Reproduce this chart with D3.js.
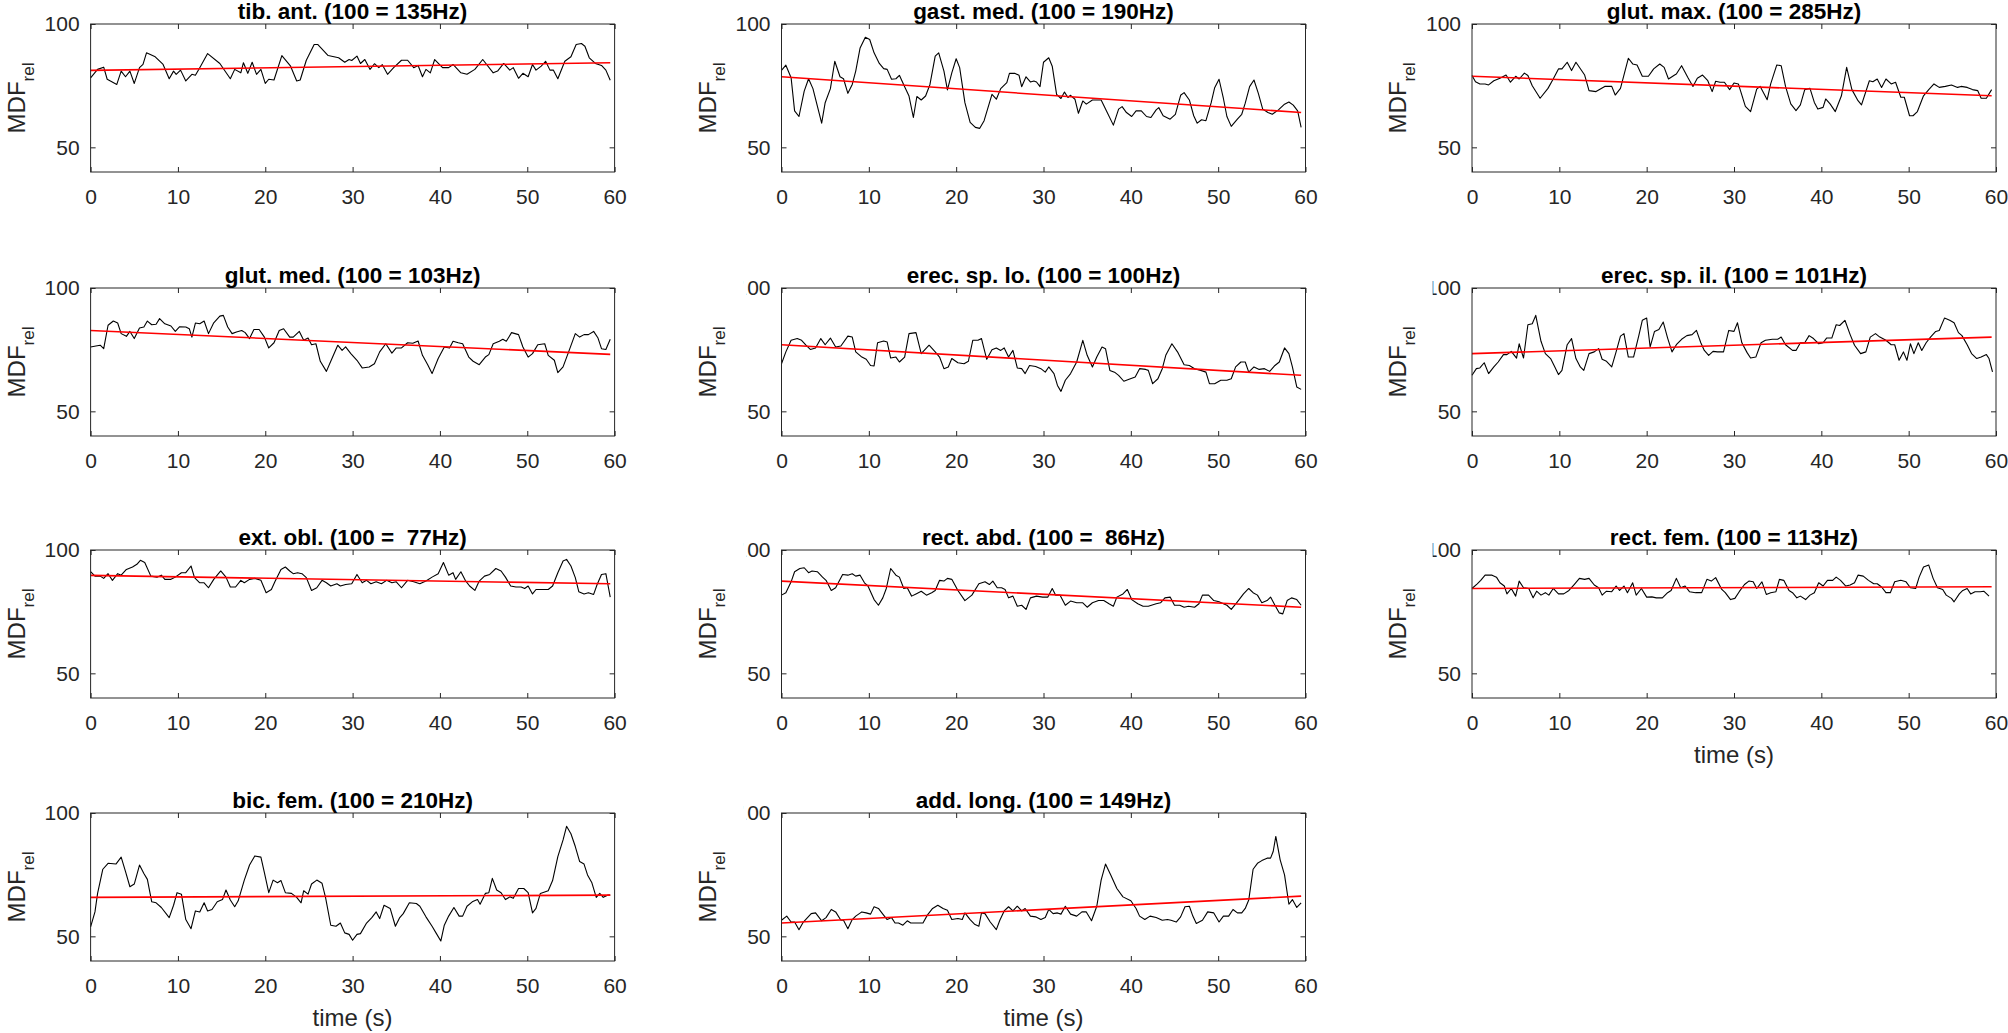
<!DOCTYPE html>
<html><head><meta charset="utf-8">
<script src="https://cdn.jsdelivr.net/npm/d3@7"></script>
<style>
body{margin:0;background:#fff;}
svg{display:block;}
text{font-family:"Liberation Sans",Arial,Helvetica,sans-serif;}
</style>
</head><body>
<svg id="chart" width="2008" height="1033"></svg>
<script>
// ---------- DATA ----------
const titles = [
  "tib. ant. (100 = 135Hz)", "gast. med. (100 = 190Hz)", "glut. max. (100 = 285Hz)",
  "glut. med. (100 = 103Hz)", "erec. sp. lo. (100 = 100Hz)", "erec. sp. il. (100 = 101Hz)",
  "ext. obl. (100 =  77Hz)", "rect. abd. (100 =  86Hz)", "rect. fem. (100 = 113Hz)",
  "bic. fem. (100 = 210Hz)", "add. long. (100 = 149Hz)"
];
const xTicks = [0, 10, 20, 30, 40, 50, 60];
const yTicks = [50, 100];
const xDomain = [0, 60];
const yDomain = [40, 100];
const trendTime = [0, 59.5];
const trendStart = [81.2, 78.6, 78.8, 82.8, 77.0, 73.4, 89.7, 87.4, 84.4, 65.8, 55.4];
const trendEnd   = [84.3, 64.1, 70.9, 73.1, 64.6, 80.1, 86.3, 76.8, 85.1, 66.7, 66.3];

const tibAnt = [[0,78.2],[0.8,81.6],[1.5,82.5],[1.9,77.6],[3.0,75.5],[3.5,80.9],[4.0,78.6],[4.5,80.9],[5.0,75.9],[5.6,82.3],[6.0,83.6],[6.4,88.3],[7.4,86.7],[8.3,83.6],[9.0,77.8],[9.5,80.9],[9.8,79.6],[10.3,81.3],[10.9,76.9],[11.6,79.6],[12.0,79.2],[12.5,82.3],[13.4,88.0],[14.8,84.0],[16.0,77.8],[16.5,81.6],[17.2,80.2],[17.5,84.3],[18.0,80.0],[18.5,84.5],[19.0,79.6],[19.5,81.6],[20.0,75.9],[20.4,77.6],[21.0,77.3],[21.9,87.2],[22.9,82.9],[23.6,76.9],[24.0,77.3],[24.7,85.3],[25.6,91.7],[26.0,91.7],[27.2,87.2],[28.4,86.3],[29.1,84.5],[29.6,85.6],[29.9,85.2],[30.5,87.0],[30.9,84.0],[31.4,85.6],[32.0,81.6],[32.5,83.9],[33.0,82.3],[33.4,83.5],[34.0,79.6],[34.7,82.3],[35.6,85.3],[36.3,85.3],[37.0,82.3],[37.5,83.2],[38.0,78.6],[38.4,81.6],[38.9,80.2],[39.4,85.6],[40.3,82.3],[41.0,82.3],[41.5,83.6],[42.4,80.2],[43.1,79.6],[44.0,81.6],[44.9,85.6],[46.1,80.2],[46.6,80.9],[47.3,84.0],[48.0,81.3],[48.4,82.3],[49.0,78.0],[49.5,80.0],[50.1,78.6],[50.6,83.6],[51.0,81.3],[51.6,82.9],[52.1,84.9],[52.6,81.3],[53.0,81.3],[53.5,77.8],[54.3,84.9],[55.0,86.7],[55.6,91.7],[56.2,92.1],[56.6,91.0],[57.1,86.3],[57.8,84.0],[58.5,83.2],[59.0,81.3],[59.5,77.2]];

const gastMed = [[0,81.2],[0.5,83.3],[1.1,78.2],[1.5,64.8],[2.0,62.5],[2.6,72.8],[3.1,77.8],[3.6,73.8],[4.6,59.8],[5.0,68.1],[5.6,73.8],[6.1,84.9],[6.7,78.6],[7.1,77.8],[7.6,71.9],[8.1,75.5],[8.5,80.9],[9.0,90.3],[9.6,94.6],[10.1,93.7],[10.6,88.3],[11.2,84.0],[11.7,81.9],[12.1,81.6],[12.6,77.6],[13.1,77.8],[13.5,79.2],[14.1,74.6],[14.6,70.8],[15.1,62.1],[15.5,70.6],[16.0,69.2],[16.5,70.8],[17.0,75.5],[17.6,87.0],[18.0,88.3],[18.6,80.9],[19.0,73.3],[19.5,80.2],[20.0,85.9],[20.4,82.3],[21.0,68.1],[21.6,60.1],[22.2,58.1],[22.7,57.7],[23.2,60.8],[24.1,71.5],[24.6,69.5],[25.1,73.8],[25.8,76.2],[26.1,80.0],[26.7,80.0],[27.2,79.2],[27.5,74.6],[28.0,78.6],[28.5,76.5],[28.9,76.9],[29.2,76.5],[29.6,74.6],[30.0,84.5],[30.6,86.3],[31.0,82.9],[31.5,71.5],[32.0,69.8],[32.4,72.4],[32.8,70.2],[33.1,71.1],[33.6,69.5],[34.0,63.8],[34.5,68.8],[34.9,67.5],[35.6,69.2],[36.6,69.2],[37.2,64.8],[38.0,59.0],[38.6,65.5],[39.0,66.5],[39.5,64.1],[40.1,62.5],[40.6,64.8],[41.2,64.8],[41.8,62.5],[42.3,62.1],[42.9,65.2],[43.2,66.1],[43.7,62.8],[44.5,61.4],[45.1,63.4],[45.7,71.1],[46.1,72.2],[46.7,69.2],[47.2,62.8],[47.6,59.8],[48.1,61.2],[48.6,60.8],[49.2,68.1],[49.6,74.2],[50.1,77.6],[50.6,69.8],[51.0,62.5],[51.5,58.5],[52.2,61.4],[52.7,63.4],[53.1,67.9],[53.6,74.6],[54.1,77.3],[54.6,71.9],[55.1,65.5],[55.7,64.1],[56.2,63.4],[56.9,65.2],[57.6,67.5],[58.1,68.4],[58.6,67.1],[59.1,64.8],[59.5,58.1]];

const glutMax = [[0,79.1],[0.4,76.6],[0.9,75.7],[1.5,75.7],[1.9,75.3],[2.5,77.0],[3.2,78.0],[3.9,79.3],[4.4,76.4],[5.0,78.8],[5.4,77.7],[6.0,80.1],[6.4,79.1],[6.9,75.0],[7.8,69.9],[8.7,73.9],[9.3,77.7],[9.9,81.8],[10.3,81.8],[10.9,84.5],[11.4,81.1],[11.9,84.5],[12.9,79.3],[13.4,73.0],[14.2,72.6],[15.2,74.7],[16.0,74.7],[16.4,71.2],[17.0,73.9],[17.9,86.1],[18.4,83.8],[18.9,83.4],[19.5,78.8],[20.2,78.8],[20.8,81.8],[21.5,83.8],[22.0,82.4],[22.5,77.7],[23.2,79.3],[23.4,79.7],[24.0,83.1],[24.7,78.4],[25.3,74.7],[25.8,78.0],[26.4,79.3],[27.0,77.0],[27.5,72.6],[27.9,76.8],[28.4,76.4],[28.9,76.4],[29.5,73.4],[30.0,76.1],[30.5,75.7],[31.3,66.6],[31.9,64.5],[32.6,73.6],[33.0,74.7],[33.8,69.3],[34.2,75.7],[34.9,83.4],[35.4,83.1],[35.9,74.7],[36.5,67.6],[37.1,64.9],[37.6,67.2],[38.1,73.4],[38.7,73.9],[39.2,68.2],[39.6,65.5],[40.2,66.2],[40.5,69.6],[41.0,67.6],[41.6,64.5],[42.3,70.9],[42.9,82.4],[43.5,73.4],[44.2,68.9],[44.6,67.2],[45.5,77.0],[45.9,76.6],[46.4,77.7],[46.9,74.3],[47.4,77.7],[48.0,75.7],[48.5,76.4],[49.1,70.3],[49.5,70.3],[50.1,62.8],[50.5,62.8],[51.0,64.5],[51.7,70.9],[52.3,73.4],[52.9,75.7],[53.5,74.3],[54.2,74.7],[54.9,75.3],[55.6,74.3],[56.0,74.7],[56.7,74.3],[57.3,73.4],[57.9,73.0],[58.3,69.9],[58.9,69.9],[59.5,73.4]];

const glutMed = [[0,76.1],[0.6,76.5],[1.1,76.8],[1.5,75.4],[2.0,84.9],[2.6,86.6],[3.1,85.8],[3.5,81.5],[4.1,80.4],[4.5,82.4],[5.0,79.5],[5.6,83.8],[6.1,84.2],[6.5,86.6],[7.0,85.1],[7.5,85.3],[7.9,87.6],[8.5,85.5],[9.2,84.6],[9.7,82.4],[10.2,84.3],[10.9,84.2],[11.3,83.5],[11.6,80.1],[12.0,85.8],[12.5,85.5],[13.0,86.6],[13.5,81.5],[14.1,85.9],[14.8,88.6],[15.2,88.9],[15.7,84.2],[16.2,81.5],[16.7,82.2],[17.3,82.8],[17.7,81.9],[18.2,79.5],[18.7,83.2],[19.3,83.2],[19.9,80.1],[20.4,75.7],[21.0,77.8],[21.6,82.8],[22.1,83.5],[22.8,80.1],[23.2,80.1],[23.9,82.4],[24.4,78.8],[24.9,79.7],[25.3,77.0],[25.8,77.4],[26.3,70.3],[27.0,66.2],[27.5,70.3],[28.3,76.8],[28.8,74.7],[29.2,76.1],[29.8,73.4],[30.5,70.7],[31.1,67.6],[31.9,68.0],[32.5,69.3],[33.1,74.1],[33.8,77.4],[34.5,73.6],[35.0,75.7],[35.6,75.7],[36.3,77.8],[36.9,77.6],[37.5,78.5],[38.0,72.7],[38.6,68.9],[39.1,65.3],[39.8,71.4],[40.5,76.1],[41.1,75.7],[41.5,78.4],[42.1,77.8],[42.6,77.4],[43.3,72.0],[43.8,70.3],[44.5,68.9],[45.2,72.0],[45.6,73.0],[46.1,77.4],[46.8,78.4],[47.2,79.2],[47.6,78.4],[48.2,81.9],[49.0,81.1],[49.5,76.1],[50.1,72.0],[50.6,73.4],[51.2,77.0],[52.0,77.4],[52.4,72.7],[53.1,70.7],[53.5,65.7],[54.1,68.0],[54.8,74.7],[55.5,81.5],[56.0,80.1],[56.5,81.1],[57.0,81.1],[57.6,82.4],[58.1,79.7],[58.5,75.4],[59.0,75.1],[59.5,79.2]];

const erecSpLo = [[0,69.3],[0.5,74.1],[1.1,78.8],[1.8,79.5],[2.3,78.8],[2.8,76.8],[3.3,75.1],[3.9,75.7],[4.5,79.5],[5.0,77.0],[5.6,79.7],[6.2,76.1],[6.8,76.5],[7.6,80.5],[8.1,80.1],[8.5,74.1],[9.2,72.0],[9.7,71.1],[10.2,68.6],[10.6,68.4],[11.0,77.8],[11.7,78.5],[12.1,78.1],[12.5,71.6],[13.1,72.0],[13.5,70.0],[14.1,72.0],[14.6,81.5],[15.4,81.9],[16.0,73.4],[16.9,76.8],[17.6,74.1],[18.1,72.0],[18.6,67.3],[19.1,68.0],[19.5,71.4],[20.2,69.7],[20.9,69.3],[21.4,70.3],[21.9,78.8],[22.5,78.8],[22.9,79.5],[23.5,71.1],[24.1,75.0],[24.6,75.7],[25.1,74.7],[25.5,75.7],[26.0,72.0],[26.5,74.7],[27.0,67.6],[27.5,67.3],[27.9,65.3],[28.4,68.6],[29.1,68.2],[29.7,67.3],[30.2,65.9],[30.6,68.0],[31.2,65.3],[31.6,60.5],[32.0,58.1],[32.5,62.6],[33.1,65.3],[33.8,70.0],[34.5,78.8],[35.0,72.7],[35.6,68.0],[36.1,72.0],[36.7,76.1],[37.1,75.4],[37.6,66.6],[38.2,65.7],[38.6,64.6],[39.2,62.2],[39.8,63.0],[40.5,63.9],[41.0,67.3],[41.7,67.0],[42.0,66.6],[42.5,61.2],[43.1,63.2],[43.6,67.3],[44.0,72.7],[44.7,77.4],[45.4,73.8],[46.1,68.9],[46.7,68.6],[47.3,67.3],[48.0,66.6],[48.6,65.9],[49.0,61.2],[49.6,61.2],[50.3,62.6],[51.0,62.6],[51.5,63.2],[52.0,68.0],[52.6,70.0],[53.1,70.0],[53.5,65.9],[54.1,68.0],[54.7,67.0],[55.3,67.3],[55.9,66.2],[56.5,68.6],[57.0,70.0],[57.6,75.7],[58.1,73.4],[58.5,68.0],[59.0,59.9],[59.5,58.9]];

const erecSpIl = [[0,64.6],[0.5,67.3],[0.9,67.6],[1.4,69.7],[1.9,65.3],[2.5,68.0],[3.0,70.0],[3.6,73.0],[4.0,73.0],[4.5,74.3],[5.1,71.6],[5.4,77.4],[5.9,71.6],[6.4,85.1],[6.9,85.5],[7.3,88.9],[7.9,78.4],[8.4,73.4],[9.0,71.4],[9.4,68.6],[9.9,64.9],[10.3,66.6],[10.9,77.0],[11.4,79.5],[11.9,71.4],[12.4,68.0],[12.8,66.6],[13.4,73.4],[14.0,74.1],[14.5,75.4],[14.9,71.1],[15.4,70.3],[16.0,68.0],[16.5,74.1],[17.0,80.5],[17.4,81.5],[17.9,72.0],[18.5,72.0],[19.1,80.7],[19.5,86.9],[20.0,87.8],[20.4,76.1],[20.9,82.4],[21.4,83.2],[21.9,86.2],[22.4,79.7],[22.9,74.1],[23.4,77.0],[24.0,79.2],[24.6,80.7],[25.2,81.1],[25.7,82.8],[26.2,77.8],[26.6,74.7],[27.1,72.7],[27.6,74.3],[28.1,74.1],[28.8,74.1],[29.4,82.8],[30.0,82.4],[30.4,85.9],[30.9,77.8],[31.5,73.8],[31.9,71.6],[32.5,72.0],[33.1,77.8],[33.6,78.8],[34.4,79.2],[35.0,79.2],[35.4,80.1],[35.9,77.0],[36.7,74.7],[37.1,74.7],[37.6,77.8],[38.1,77.8],[38.6,80.7],[39.1,79.5],[39.7,77.4],[40.2,77.8],[40.6,79.7],[41.2,79.7],[41.7,85.1],[42.1,84.8],[42.7,86.9],[43.3,81.1],[43.8,76.8],[44.5,73.4],[45.1,74.1],[45.6,80.1],[46.2,81.5],[46.7,80.1],[47.4,78.8],[48.0,77.0],[48.4,77.0],[48.9,70.7],[49.4,74.1],[49.8,70.7],[50.2,77.4],[50.6,73.4],[51.1,77.8],[51.5,74.7],[52.0,77.8],[52.5,80.1],[53.1,82.4],[53.5,82.8],[54.1,87.8],[54.7,86.9],[55.2,85.9],[55.7,81.9],[56.1,80.7],[56.7,77.0],[57.2,73.4],[57.8,71.4],[58.3,72.0],[58.9,73.0],[59.2,71.4],[59.6,66.0]];

const extObl = [[0,91.2],[0.5,89.4],[1.1,89.4],[1.5,88.5],[2.0,90.4],[2.5,87.7],[3.1,90.4],[3.5,89.8],[4.1,92.1],[4.8,93.1],[5.3,94.2],[5.7,95.8],[6.2,94.9],[6.9,89.4],[7.6,89.0],[8.1,89.8],[8.5,88.1],[9.2,88.1],[9.7,89.0],[10.4,90.8],[10.9,90.8],[11.5,93.5],[11.9,88.8],[12.5,86.7],[13.0,86.7],[13.5,84.7],[14.1,88.1],[14.9,91.5],[15.5,89.0],[16.0,85.0],[16.6,85.0],[17.2,87.7],[17.6,86.7],[18.2,88.1],[18.8,88.5],[19.5,87.7],[20.1,82.7],[20.7,84.0],[21.1,87.1],[21.8,92.1],[22.3,93.1],[22.8,91.5],[23.2,90.4],[23.7,90.8],[24.2,90.4],[24.7,88.8],[25.3,83.6],[25.9,84.7],[26.5,87.7],[27.0,86.7],[27.5,85.4],[28.2,86.3],[28.6,85.4],[29.2,86.0],[29.9,86.3],[30.5,90.1],[31.1,86.7],[31.6,87.7],[32.1,86.3],[32.7,87.1],[33.3,86.3],[33.9,87.7],[34.5,86.7],[35.0,87.1],[35.6,84.7],[36.3,87.7],[37.0,87.1],[37.7,86.3],[38.4,87.4],[39.1,89.0],[39.8,90.4],[40.4,94.9],[41.0,89.8],[41.5,90.8],[41.8,88.1],[42.4,91.2],[42.9,87.7],[43.4,85.4],[44.0,83.6],[44.5,87.4],[45.1,89.4],[45.7,90.1],[46.4,92.5],[47.0,91.5],[47.5,89.0],[48.1,85.4],[48.7,85.0],[49.3,85.0],[49.7,84.4],[50.1,85.4],[50.6,82.2],[51.0,84.0],[51.7,84.0],[52.4,84.0],[52.9,85.4],[53.5,90.8],[54.1,95.5],[54.5,96.2],[55.0,93.5],[55.5,88.8],[55.9,83.1],[56.5,82.2],[57.0,82.7],[57.6,82.0],[58.0,86.0],[58.5,90.1],[59.0,90.4],[59.5,80.9]];

const rectAbd = [[0,81.7],[0.5,82.7],[1.1,87.1],[1.5,91.2],[2.1,92.5],[2.6,92.8],[3.1,90.8],[3.5,91.5],[4.1,91.2],[4.7,89.0],[5.1,87.7],[5.7,83.6],[6.2,84.7],[7.0,90.1],[7.6,89.8],[8.1,90.4],[8.5,89.4],[9.0,89.8],[9.5,86.7],[9.9,85.4],[10.6,79.9],[11.1,77.6],[11.6,80.6],[12.0,84.4],[12.5,92.5],[13.1,89.8],[13.5,89.0],[14.0,84.4],[14.4,84.7],[14.9,81.3],[15.4,82.2],[16.0,83.3],[16.6,81.7],[17.2,82.7],[17.6,83.6],[18.1,87.7],[18.6,87.4],[19.0,88.5],[19.5,88.1],[20.2,83.6],[21.0,79.5],[21.8,81.7],[22.6,86.3],[23.3,87.1],[23.8,86.0],[24.2,87.4],[24.7,84.7],[25.2,84.7],[25.6,84.0],[26.0,80.6],[26.5,81.3],[27.0,77.2],[27.5,77.6],[28.0,75.9],[28.5,80.6],[29.2,81.3],[29.9,80.9],[30.5,80.9],[31.0,84.4],[31.4,81.7],[31.9,81.7],[32.5,77.6],[33.1,79.3],[33.8,78.6],[34.5,78.6],[35.0,76.8],[35.6,78.6],[36.3,79.5],[36.9,79.5],[37.5,78.2],[38.0,77.2],[38.4,80.9],[39.1,82.2],[39.6,84.0],[40.1,79.9],[40.8,78.2],[41.4,77.2],[42.0,77.2],[42.9,78.2],[43.4,78.6],[43.9,80.6],[44.5,80.9],[45.0,77.6],[45.6,77.6],[46.1,76.8],[46.6,77.2],[47.3,76.8],[47.8,78.2],[48.2,81.7],[48.9,81.7],[49.5,79.5],[50.1,79.0],[50.6,78.2],[51.0,77.6],[51.5,75.9],[52.2,79.0],[52.9,82.2],[53.5,84.4],[54.0,82.7],[54.5,81.7],[55.0,78.6],[55.6,79.5],[56.0,80.9],[56.5,77.6],[57.0,74.5],[57.4,74.1],[57.9,79.5],[58.4,80.6],[59.0,79.9],[59.5,77.6]];

const rectFem = [[0,84.4],[0.6,86.3],[1.0,87.7],[1.5,89.8],[2.3,89.8],[2.8,89.0],[3.2,86.7],[3.7,85.4],[4.0,82.2],[4.5,84.4],[5.0,81.3],[5.4,87.4],[5.9,84.7],[6.5,84.4],[7.0,80.6],[7.4,83.3],[7.9,81.7],[8.4,82.7],[8.8,81.7],[9.3,84.4],[9.9,82.2],[10.5,82.2],[11.1,83.6],[11.7,86.0],[12.3,88.5],[12.9,88.1],[13.4,88.5],[14.0,85.8],[14.5,84.7],[14.9,81.7],[15.4,83.3],[16.0,83.1],[16.5,85.4],[16.9,83.6],[17.4,85.4],[17.8,82.7],[18.4,86.7],[18.8,81.7],[19.4,84.4],[20.0,80.9],[20.6,81.0],[21.1,80.6],[21.8,80.6],[22.4,82.7],[22.8,83.6],[23.4,88.5],[23.9,84.7],[24.4,85.4],[24.9,83.1],[25.6,82.7],[26.3,82.7],[26.9,88.1],[27.4,87.4],[27.9,88.8],[28.6,84.0],[29.0,82.7],[29.6,79.9],[30.1,80.4],[30.6,83.1],[31.2,86.0],[31.7,87.4],[32.2,87.1],[32.6,84.4],[33.2,87.1],[33.7,82.0],[34.2,82.7],[34.8,83.1],[35.2,88.1],[35.7,87.7],[36.3,83.6],[36.7,82.7],[37.2,80.6],[37.6,81.3],[38.2,79.9],[38.7,81.7],[39.2,82.7],[39.7,86.7],[40.2,85.4],[40.7,87.7],[41.3,87.7],[41.7,89.0],[42.2,87.7],[42.8,85.4],[43.3,85.8],[43.8,86.7],[44.2,89.8],[44.8,89.4],[45.4,87.7],[46.0,86.3],[46.4,86.3],[46.9,85.0],[47.4,82.7],[47.9,82.7],[48.4,87.1],[49.1,87.7],[49.7,87.1],[50.2,84.7],[50.8,84.4],[51.2,89.0],[51.7,93.1],[52.3,93.9],[52.8,88.5],[53.3,84.7],[53.9,84.0],[54.3,81.7],[54.9,80.4],[55.2,79.0],[55.8,82.2],[56.2,83.6],[56.7,84.4],[57.1,82.2],[57.6,83.1],[58.2,83.1],[58.6,83.3],[59.2,81.3]];

const bicFem = [[0,53.8],[0.5,59.9],[0.8,67.4],[1.4,77.2],[2.0,79.6],[2.9,79.3],[3.5,82.1],[4.0,76.2],[4.5,70.1],[5.0,71.2],[5.6,78.9],[6.1,75.5],[6.5,73.1],[7.0,64.0],[7.5,63.6],[8.1,61.7],[9.0,57.6],[9.5,62.6],[9.9,67.7],[10.4,67.1],[10.9,56.8],[11.5,53.1],[12.0,60.3],[12.5,59.9],[13.0,63.6],[13.4,60.3],[13.9,60.9],[14.5,64.0],[15.1,64.9],[15.5,68.8],[16.0,64.7],[16.5,62.0],[16.9,64.4],[17.6,72.8],[18.2,78.9],[18.8,82.6],[19.5,82.1],[19.9,75.8],[20.4,67.7],[20.9,72.8],[21.4,71.7],[21.8,72.6],[22.3,67.7],[23.0,67.4],[23.6,65.8],[24.1,63.6],[24.4,68.5],[24.9,67.1],[25.3,71.2],[25.9,72.8],[26.5,71.5],[26.9,65.8],[27.5,54.5],[28.1,54.1],[28.6,55.4],[29.1,51.4],[29.6,50.8],[30.0,48.4],[30.5,50.8],[30.9,51.1],[31.6,55.4],[32.2,57.6],[32.7,59.9],[33.1,57.2],[33.6,62.6],[34.3,61.3],[34.9,54.1],[35.4,57.6],[35.8,59.2],[36.5,63.6],[37.3,63.3],[37.7,62.2],[38.4,57.9],[39.1,54.1],[39.6,51.1],[40.1,48.1],[40.5,54.5],[41.0,58.2],[41.6,61.7],[42.2,58.2],[42.6,58.2],[43.1,62.2],[43.7,64.0],[44.3,64.9],[44.6,63.0],[45.2,67.4],[45.6,67.7],[46.0,73.5],[46.5,68.8],[47.0,67.7],[47.5,64.9],[48.0,66.0],[48.4,65.4],[49.0,69.4],[49.6,69.4],[50.1,67.7],[50.6,59.5],[51.0,61.3],[51.5,67.4],[52.4,68.5],[52.9,72.6],[53.5,82.3],[54.1,89.1],[54.5,94.6],[55.0,91.6],[55.5,86.4],[56.0,80.3],[56.5,79.3],[56.9,74.9],[57.4,71.7],[57.9,65.8],[58.3,67.4],[58.7,65.8],[59.2,66.7],[59.5,66.7]];

const addLong = [[0,56.5],[0.6,58.2],[1.1,55.8],[1.5,55.8],[2.0,52.7],[2.5,55.8],[3.4,59.2],[3.9,59.5],[4.6,56.3],[5.1,57.6],[5.7,60.9],[6.2,59.9],[6.8,56.5],[7.1,56.5],[7.6,53.1],[8.1,56.8],[8.5,58.2],[9.2,59.9],[9.7,59.5],[10.2,59.0],[10.6,62.0],[11.1,61.3],[11.6,59.0],[12.1,56.8],[12.6,57.6],[13.0,55.4],[13.4,55.4],[13.9,54.5],[14.4,56.3],[14.8,55.4],[15.5,55.4],[16.2,55.4],[16.7,58.6],[17.3,61.3],[17.9,62.6],[18.5,61.3],[19.0,60.6],[19.5,56.8],[20.2,57.2],[20.7,56.8],[21.0,59.5],[21.6,56.8],[22.1,54.9],[22.6,54.1],[22.9,59.5],[23.3,59.2],[23.9,55.8],[24.6,52.7],[25.0,56.5],[25.5,60.3],[26.0,62.0],[26.5,60.3],[27.0,62.2],[27.5,60.3],[27.9,61.3],[28.5,58.2],[29.1,57.9],[29.7,56.8],[30.2,57.6],[30.6,60.9],[31.1,59.2],[31.6,59.5],[32.0,59.0],[32.5,62.2],[33.1,59.0],[33.8,58.2],[34.4,59.9],[34.9,59.9],[35.5,56.3],[36.1,62.2],[36.6,72.8],[37.1,79.3],[37.7,74.9],[38.4,69.4],[39.1,66.0],[40.0,64.4],[40.6,61.3],[41.0,58.2],[41.6,56.8],[42.2,58.2],[42.9,57.6],[43.6,56.5],[44.2,56.8],[44.6,56.5],[45.2,55.8],[45.7,57.9],[46.2,62.0],[46.7,62.2],[47.1,58.2],[47.5,55.2],[48.2,56.5],[48.8,59.9],[49.5,59.5],[50.1,55.8],[50.6,58.2],[51.2,58.2],[51.7,60.9],[52.2,59.5],[52.7,59.5],[53.1,61.3],[53.5,64.7],[54.0,77.2],[54.5,79.6],[55.0,80.7],[55.6,81.7],[56.0,81.7],[56.3,84.4],[56.6,90.5],[57.1,81.0],[57.6,74.9],[58.1,63.0],[58.5,64.9],[59.0,61.7],[59.5,63.6]];

const series = [tibAnt, gastMed, glutMax, glutMed, erecSpLo, erecSpIl, extObl, rectAbd, rectFem, bicFem, addLong];

// ---------- LAYOUT ----------
const W = 524, H = 148;
const colX = [90.6, 781.5, 1472];
const rowY = [24, 288, 550, 813];
const axisColor = "#262626";
const tickFont = 21;
// tick labels "100" partly cut off at the left in the reference: "hide" keeps only a speck of the "1"
const labelCut = {4: "hide", 7: "hide", 10: "hide", 5: "thin", 8: "thin"};

const svg = d3.select("#chart");
const defs = svg.append("defs");
const x = d3.scaleLinear().domain(xDomain).range([0, W]);
const y = d3.scaleLinear().domain(yDomain).range([H, 0]);
const line = d3.line().x(d => x(d[0])).y(d => y(d[1]));

function styleAxis(sel) {
  sel.select(".domain").remove();
  sel.selectAll("line").attr("stroke", axisColor).attr("stroke-width", 1);
  sel.selectAll("text").attr("fill", axisColor).style("font-size", tickFont + "px")
     .style("font-family", '"Liberation Sans", Arial, sans-serif');
  sel.attr("font-family", null).attr("font-size", null);
}

series.forEach((data, i) => {
  const col = i % 3, row = Math.floor(i / 3);
  const g = svg.append("g").attr("transform", `translate(${colX[col]},${rowY[row]})`);

  // black data line
  g.append("path").datum(data).attr("d", line)
    .attr("fill", "none").attr("stroke", "#000").attr("stroke-width", 1.1)
    .attr("stroke-linejoin", "round");
  // red trend line
  g.append("path").datum([[trendTime[0], trendStart[i]], [trendTime[1], trendEnd[i]]])
    .attr("d", line).attr("fill", "none").attr("stroke", "#ff0000").attr("stroke-width", 1.6);

  // axes (inward ticks on all four sides)
  g.append("g").attr("transform", `translate(0,${H})`)
    .call(d3.axisBottom(x).tickValues(xTicks).tickSizeInner(-5).tickSizeOuter(0).tickPadding(17))
    .call(styleAxis);
  g.append("g")
    .call(d3.axisTop(x).tickValues(xTicks).tickSizeInner(-5).tickSizeOuter(0).tickFormat(""))
    .call(styleAxis);
  const yAx = g.append("g")
    .call(d3.axisLeft(y).tickValues(yTicks).tickSizeInner(-5).tickSizeOuter(0).tickPadding(11))
    .call(styleAxis);
  g.append("g").attr("transform", `translate(${W},0)`)
    .call(d3.axisRight(y).tickValues(yTicks).tickSizeInner(-5).tickSizeOuter(0).tickFormat(""))
    .call(styleAxis);

  if (labelCut[i]) {
    const id = "cut" + i;
    const cp = defs.append("clipPath").attr("id", id);
    if (labelCut[i] === "hide") {
      cp.append("rect").attr("x", -35).attr("y", -30).attr("width", 60).attr("height", 60);
      cp.append("rect").attr("x", -38.5).attr("y", -9).attr("width", 4).attr("height", 4);
    } else {
      cp.append("rect").attr("x", -39.3).attr("y", -30).attr("width", 60).attr("height", 60);
    }
    yAx.selectAll(".tick text").filter(d => d === 100).attr("clip-path", `url(#${id})`);
  }

  // box
  g.append("rect").attr("x", 0).attr("y", 0).attr("width", W).attr("height", H)
    .attr("fill", "none").attr("stroke", axisColor).attr("stroke-width", 1);

  // title
  g.append("text").attr("x", W / 2).attr("y", -5).attr("text-anchor", "middle")
    .attr("xml:space", "preserve").style("white-space", "pre")
    .style("font-weight", "bold").style("font-size", "22.5px").attr("fill", "#000")
    .text(titles[i]);

  // y label: MDF with subscript rel
  const yl = g.append("text").attr("transform", `translate(-66,${H / 2}) rotate(-90)`)
    .attr("text-anchor", "middle").attr("fill", axisColor).style("font-size", "24px");
  yl.append("tspan").text("MDF");
  yl.append("tspan").attr("dy", 9).style("font-size", "17px").text("rel");

  // x label on the lowest panel of each column
  if (i >= 8) {
    g.append("text").attr("x", W / 2).attr("y", H + 65).attr("text-anchor", "middle")
      .attr("fill", axisColor).style("font-size", "24px").text("time (s)");
  }
});
</script>
</body></html>
